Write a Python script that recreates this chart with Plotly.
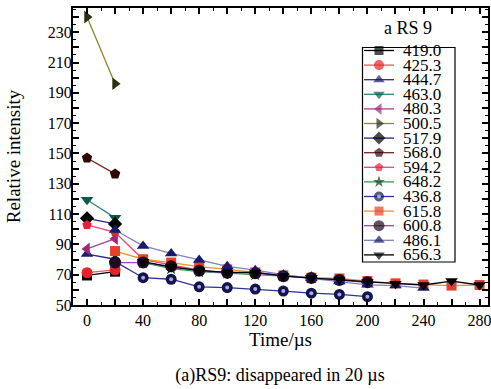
import plotly.graph_objects as go

# ---------------- data ----------------
names = ["419.0", "425.3", "444.7", "463.0", "480.3", "500.5", "517.9", "568.0",
         "594.2", "648.2", "436.8", "615.8", "600.8", "486.1", "656.3"]

x_419 = [0, 20];  y_419 = [69.5, 72.0]
x_425 = [0, 20];  y_425 = [71.3, 73.2]
x_444 = [0, 20];  y_444 = [83.6, 80.2]
x_463 = [0, 20];  y_463 = [119.5, 107.5]
x_480 = [0, 20];  y_480 = [87.0, 93.8]
x_500 = [0, 20];  y_500 = [240.0, 196.0]
x_517 = [0, 20];  y_517 = [107.2, 103.5]
x_568 = [0, 20];  y_568 = [147.0, 136.5]
x_594 = [0, 20, 40, 60, 80, 100];  y_594 = [102.8, 98.0, 80.0, 76.5, 73.0, 71.0]
x_648 = [40, 60, 80, 100, 120, 140, 160];  y_648 = [78.0, 74.0, 72.0, 71.0, 70.0, 69.0, 68.0]
x_436 = [20, 40, 60, 80, 100, 120, 140, 160, 180, 200]
y_436 = [78.6, 68.0, 67.0, 62.0, 61.5, 60.5, 59.2, 57.8, 57.0, 55.5]
x_615 = [20, 40, 60, 80, 100, 120, 140, 160, 180, 200, 220, 240, 260, 280]
y_615 = [85.6, 80.2, 78.0, 75.3, 73.5, 71.5, 69.5, 68.0, 67.5, 65.8, 64.3, 63.5, 62.8, 63.2]
x_600 = [20, 40, 60, 80, 100, 120, 140, 160, 180, 200]
y_600 = [78.0, 78.0, 75.5, 72.6, 71.2, 71.0, 69.0, 67.8, 66.5, 65.0]
x_486 = [20, 40, 60, 80, 100, 120, 140, 160, 180, 200, 220, 240]
y_486 = [99.5, 89.0, 84.0, 79.7, 75.5, 73.0, 70.0, 67.6, 65.5, 63.3, 62.8, 61.2]
x_656 = [40, 60, 80, 100, 120, 140, 160, 180, 200, 220, 240, 260, 280]
y_656 = [78.6, 75.0, 72.8, 71.5, 71.5, 69.2, 67.8, 66.8, 65.2, 64.0, 63.2, 65.8, 63.2]

xs = [x_419, x_425, x_444, x_463, x_480, x_500, x_517, x_568,
      x_594, x_648, x_436, x_615, x_600, x_486, x_656]
ys = [y_419, y_425, y_444, y_463, y_480, y_500, y_517, y_568,
      y_594, y_648, y_436, y_615, y_600, y_486, y_656]

x_tickvals = list(range(0, 281, 20))
x_ticktext = [str(v) if v % 40 == 0 else "" for v in x_tickvals]
y_tickvals = list(range(50, 241, 10))
y_ticktext = [str(v) if (v - 50) % 20 == 0 else "" for v in y_tickvals]

# ---------------- styles ----------------
line_colors = ["#000000", "#f05858", "#2a2a8a", "#2a8a78", "#b03c90", "#8a8a2a",
               "#2a2a80", "#7a2020", "#f04080", "#30a050", "#3030a0", "#f09030",
               "#a040c0", "#8080c8", "#000000"]
marker_colors = ["#000000", "#e8202a", "#1c1c6e", "#0c5a4c", "#a02878", "#2a3010",
                 "#000000", "#300808", "#e8203a", "#104020", "#14144a", "#e8402a",
                 "#200a20", "#1a1a6a", "#000000"]
symbols = ["square", "circle", "triangle-up", "triangle-down", "triangle-left",
           "triangle-right", "diamond", "pentagon", "pentagon", "star", "circle",
           "square", "circle", "triangle-up", "triangle-down"]
sizes = [10, 11, 11, 11, 11, 11, 11, 11, 10, 10, 11, 10, 12, 11, 11]
DOT_IDX = names.index("436.8")
DOT_COLOR = "#a8a8f0"

FONT = "Liberation Serif, Times New Roman, serif"

fig = go.Figure()
for i, n in enumerate(names):
    fig.add_trace(go.Scatter(
        x=xs[i], y=ys[i], mode="lines+markers", name=n, showlegend=False,
        line=dict(color=line_colors[i], width=1.3),
        marker=dict(symbol=symbols[i], size=sizes[i], color=marker_colors[i], line=dict(width=0)),
    ))
    if i == DOT_IDX:
        fig.add_trace(go.Scatter(x=xs[i], y=ys[i], mode="markers", showlegend=False,
                                 hoverinfo="skip",
                                 marker=dict(symbol="circle", size=4, color=DOT_COLOR, line=dict(width=0))))

# ---------------- custom legend (layout positions in paper units) ----------------
L = 73.0; T = 8.0; W = 415.0; H = 297.0
def px(xp): return (xp - L) / W
def py(yp): return (T + H - yp) / H

fig.add_shape(type="rect", xref="paper", yref="paper",
              x0=px(362.5), x1=px(455), y0=py(262), y1=py(47.5),
              line=dict(color="black", width=1.2), fillcolor="white", layer="below")
for i, n in enumerate(names):
    yy = py(50.5 + 14.6 * i)
    fig.add_trace(go.Scatter(
        x=[px(364), px(379), px(394)], y=[yy, yy, yy], xaxis="x2", yaxis="y2",
        mode="lines+markers", showlegend=False, hoverinfo="skip",
        line=dict(color=line_colors[i], width=1.3),
        marker=dict(symbol=symbols[i], size=[0, sizes[i] - 1, 0], color=marker_colors[i], line=dict(width=0)),
    ))
    if i == DOT_IDX:
        fig.add_trace(go.Scatter(x=[px(379)], y=[yy], xaxis="x2", yaxis="y2", mode="markers",
                                 showlegend=False, hoverinfo="skip",
                                 marker=dict(symbol="circle", size=4, color=DOT_COLOR, line=dict(width=0))))
    fig.add_annotation(x=px(402), y=yy, xref="paper", yref="paper", text=n,
                       showarrow=False, xanchor="left", yanchor="middle",
                       height=14.6, borderpad=0, valign="middle",
                       font=dict(family=FONT, size=17, color="black"))
fig.add_annotation(x=px(408), y=py(28), xref="paper", yref="paper", text="a RS 9",
                   showarrow=False, xanchor="center", yanchor="middle",
                   font=dict(family=FONT, size=18, color="black"))

axis_common = dict(showline=True, linecolor="black", linewidth=2, mirror="ticks",
                   ticks="inside", tickcolor="black", tickwidth=1.5, ticklen=6,
                   showgrid=False, zeroline=False, automargin=False,
                   ticklabeloverflow="allow",
                   tickfont=dict(family=FONT, size=16, color="black"))

fig.update_layout(
    width=491, height=389,
    margin=dict(l=73, r=3, t=8, b=84),
    paper_bgcolor="white", plot_bgcolor="white",
    showlegend=False,
    title=dict(text="(a)RS9: disappeared in 20 µs", x=px(280), xref="paper",
               y=1 - 375 / 389, yref="container", xanchor="center", yanchor="middle",
               font=dict(family=FONT, size=18, color="black"), automargin=False),
    xaxis=dict(range=[-10, 286], tickmode="array", tickvals=x_tickvals, ticktext=x_ticktext,
               minor=dict(dtick=10, tick0=0, ticks="inside", ticklen=3, tickcolor="black", tickwidth=1.2),
               title=dict(text="Time/µs", font=dict(family=FONT, size=19, color="black"), standoff=4),
               **axis_common),
    yaxis=dict(range=[50, 246], tickmode="array", tickvals=y_tickvals, ticktext=y_ticktext,
               ticklabelstandoff=-4,
               minor=dict(dtick=5, tick0=50, ticks="inside", ticklen=3, tickcolor="black", tickwidth=1.2),
               title=dict(text="Relative intensity", font=dict(family=FONT, size=19, color="black"), standoff=22),
               **axis_common),
    xaxis2=dict(range=[0, 1], overlaying="x", visible=False, fixedrange=True),
    yaxis2=dict(range=[0, 1], overlaying="y", visible=False, fixedrange=True),
)

fig.write_html("out.html", config={"displayModeBar": False},
               post_script="document.body.style.margin='0px';")
